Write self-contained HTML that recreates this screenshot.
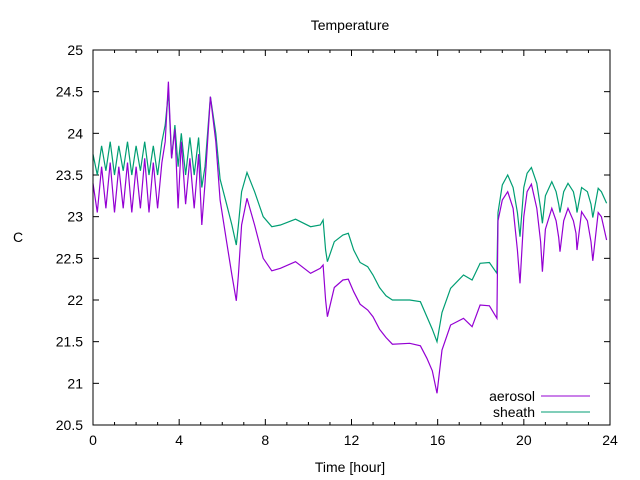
<!DOCTYPE html>
<html><head><meta charset="utf-8"><style>
body{margin:0;background:#fff}
svg{display:block;font-family:"Liberation Sans","DejaVu Sans",sans-serif}
</style></head><body>
<svg id="chart" width="640" height="480">
<text x="350" y="30" font-size="14" text-anchor="middle">Temperature</text>
<text x="350" y="472" font-size="14" text-anchor="middle">Time [hour]</text>
<text x="18" y="242" font-size="14" text-anchor="middle">C</text>
<g id="axes"></g>
<g id="series"></g>
<g>
<text x="535" y="401" font-size="14" text-anchor="end">aerosol</text>
<line x1="541" y1="396" x2="590" y2="396" stroke="#9400d3" stroke-width="1"/>
<text x="535" y="417" font-size="14" text-anchor="end">sheath</text>
<line x1="541" y1="412" x2="590" y2="412" stroke="#009e73" stroke-width="1"/>
</g>
<rect x="93" y="50" width="517" height="375" fill="none" stroke="#000" stroke-width="1"/>
</svg>
<script>
const times=[0,0.2,0.4,0.6,0.8,1.0,1.2,1.4,1.6,1.8,2.0,2.2,2.4,2.6,2.8,3.0,3.2,3.35,3.5,3.65,3.8,3.95,4.1,4.3,4.5,4.7,4.9,5.05,5.2,5.45,5.7,5.9,6.2,6.45,6.65,6.75,6.9,7.15,7.5,7.9,8.3,8.7,9.4,10.1,10.55,10.68,10.8,10.88,11.2,11.6,11.85,12.1,12.4,12.75,13.0,13.3,13.6,13.9,14.7,15.2,15.5,15.75,15.97,16.2,16.6,17.2,17.6,17.97,18.4,18.75,18.8,19.0,19.25,19.5,19.7,19.82,20.0,20.15,20.35,20.6,20.78,20.86,21.0,21.3,21.5,21.62,21.68,21.85,22.05,22.3,22.42,22.47,22.68,22.95,23.12,23.2,23.45,23.6,23.84];
const sheath=[23.75,23.5,23.85,23.55,23.9,23.5,23.85,23.55,23.9,23.5,23.85,23.55,23.9,23.5,23.85,23.5,23.9,24.1,24.5,23.7,24.1,23.6,24.0,23.5,23.95,23.5,23.95,23.35,23.6,24.44,24.0,23.45,23.15,22.9,22.66,22.9,23.3,23.53,23.3,23.0,22.88,22.9,22.97,22.88,22.9,22.96,22.6,22.46,22.7,22.78,22.8,22.6,22.45,22.4,22.3,22.15,22.05,22.0,22.0,21.98,21.8,21.65,21.5,21.85,22.14,22.3,22.24,22.44,22.45,22.32,23.05,23.38,23.5,23.35,23.05,22.76,23.35,23.52,23.59,23.4,23.1,22.92,23.25,23.42,23.3,23.15,23.05,23.3,23.4,23.3,23.15,23.05,23.35,23.3,23.15,22.99,23.34,23.3,23.16];
const aerosol=[23.4,23.05,23.6,23.1,23.65,23.05,23.6,23.1,23.65,23.05,23.6,23.1,23.7,23.05,23.65,23.1,23.65,23.9,24.62,23.7,24.05,23.1,23.9,23.15,23.7,23.1,23.75,22.9,23.4,24.44,23.9,23.2,22.7,22.3,21.99,22.3,22.9,23.22,22.9,22.5,22.35,22.38,22.46,22.32,22.38,22.42,22.0,21.8,22.15,22.24,22.25,22.1,21.95,21.88,21.8,21.65,21.55,21.47,21.48,21.45,21.3,21.15,20.88,21.4,21.7,21.78,21.68,21.94,21.93,21.78,22.95,23.2,23.3,23.1,22.6,22.2,23.0,23.3,23.39,23.1,22.7,22.34,22.85,23.1,22.95,22.75,22.58,22.95,23.1,22.95,22.8,22.6,23.06,22.95,22.7,22.47,23.05,23.0,22.72];
const xTicks=[0,4,8,12,16,20,24];
const yTicks=[20.5,21,21.5,22,22.5,23,23.5,24,24.5,25];
const L=93,R=610,T=50,B=425;
const xs=v=>L+(v-0)/24*(R-L);
const ys=v=>B-(v-20.5)/4.5*(B-T);
const NS='http://www.w3.org/2000/svg';
const axes=document.getElementById('axes');
function mk(tag,attrs,parent){const e=document.createElementNS(NS,tag);for(const k in attrs)e.setAttribute(k,attrs[k]);parent.appendChild(e);return e;}
for(let h=0;h<=24;h++){
  const x=xs(h);const len=xTicks.includes(h)?6:3;
  const a=mk('line',{x1:x,y1:B,x2:x,y2:B-len,stroke:'#000'},axes);
  
  
  const b=mk('line',{x1:x,y1:T,x2:x,y2:T+len,stroke:'#000'},axes);
  
  
}
xTicks.forEach(v=>{
  const t=mk('text',{x:xs(v),y:B+20,'font-size':14,'text-anchor':'middle'},axes);t.textContent=v;
  
  
});
yTicks.forEach(v=>{
  const y=ys(v);
  const a=mk('line',{x1:L,y1:y,x2:L+6,y2:y,stroke:'#000'},axes);
  
  
  const b=mk('line',{x1:R,y1:y,x2:R-6,y2:y,stroke:'#000'},axes);
  
  
  const t=mk('text',{x:L-10,y:y+5,'font-size':14,'text-anchor':'end'},axes);t.textContent=v;
  
  
});
const ser=document.getElementById('series');
function line(vals,color,name){
  const d=vals.map((v,i)=>(i?'L':'M')+xs(times[i]).toFixed(1)+','+ys(v).toFixed(1)).join(' ');
  const p=mk('path',{d:d,fill:'none',stroke:color,'stroke-width':1.2},ser);
  
  
}
line(sheath,'#009e73','sheath-line');
line(aerosol,'#9400d3','aerosol-line');
</script>
</body></html>
